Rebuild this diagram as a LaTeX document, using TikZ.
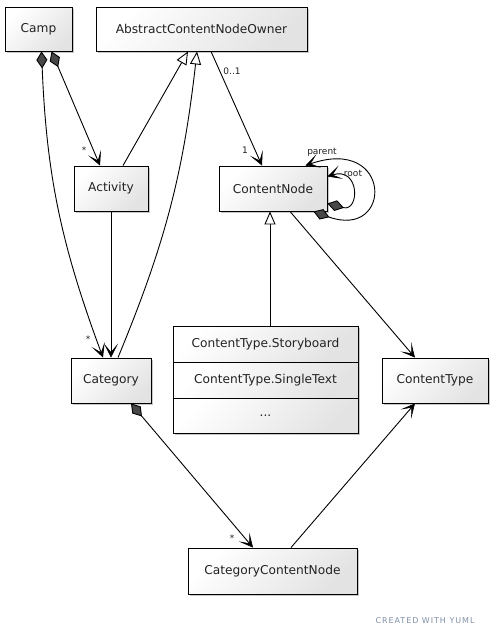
\documentclass[tikz,border=0pt]{standalone}
\usepackage{fontspec}
\setmainfont{DejaVu Sans}
\usetikzlibrary{arrows.meta,shadows}
\definecolor{txt}{HTML}{222222}
\definecolor{yumlgray}{HTML}{8090A8}
\tikzset{
  cls/.style={draw=black, line width=0.9pt, inner sep=0pt, text=txt,
    top color=white, bottom color=black!11, shading angle=45,
    drop shadow={shadow xshift=2pt, shadow yshift=-2pt, opacity=0.22, fill=black},
    font=\fontsize{12.2}{14}\selectfont},
  edge/.style={draw=black, line width=0.9pt},
  vee/.style={-{Stealth[length=14pt,width=14pt,inset=8.5pt,line width=0.6pt]}},
  inh/.style={-{Triangle[open,length=13pt,width=11pt,fill=white]}},
  comp/.style={{Diamond[length=17pt,width=11pt,fill=black!72]}-{Stealth[length=14pt,width=14pt,inset=8.5pt,line width=0.6pt]}},
  lab/.style={font=\fontsize{9}{10}\selectfont, text=txt, inner sep=0pt}
}
\begin{document}
\begin{tikzpicture}[x=1pt,y=-1pt]
\useasboundingbox[fill=white] (0,0) rectangle (493,638);
% classes
\node[cls, minimum width=67pt, minimum height=44pt] (camp) at (38.5,29) {Camp};
\node[cls, minimum width=211pt, minimum height=44pt] (acno) at (201.5,29) {AbstractContentNodeOwner};
\node[cls, minimum width=74pt, minimum height=45pt] (activity) at (111,188.5) {Activity};
\node[cls, minimum width=108pt, minimum height=45pt] (cn) at (273,188.5) {ContentNode};
\node[cls, minimum width=80pt, minimum height=45pt] (category) at (111,380.5) {Category};
\node[cls, minimum width=106pt, minimum height=45pt] (ct) at (435,380.5) {ContentType};
\node[cls, minimum width=169pt, minimum height=46pt] (ccn) at (272.5,571) {CategoryContentNode};
\node[cls, minimum width=185pt, minimum height=36pt] (sb1) at (265.5,344) {ContentType.Storyboard};
\node[cls, minimum width=185pt, minimum height=36pt] (sb2) at (265.5,380) {ContentType.SingleText};
\node[cls, minimum width=185pt, minimum height=35pt] (sb3) at (265.5,415.5) {...};
% connectors
\draw[edge, comp] ([xshift=13pt]camp.south) to ([xshift=-11pt]activity.north);
\draw[edge, comp] ([xshift=3pt]camp.south) to[bend right=9] ([xshift=-8pt]category.north);
\draw[edge, inh] ([xshift=12pt]activity.north) to ([xshift=-13.5pt]acno.south);
\draw[edge, inh] ([xshift=7pt]category.north) to[bend right=8] ([xshift=-4.5pt]acno.south);
\draw[edge, vee] (activity.south) to (category.north);
\draw[edge, vee] ([xshift=9.5pt]acno.south) to ([xshift=-11pt]cn.north);
\draw[edge, comp] ([xshift=-14pt]cn.south east) .. controls (393,240) and (393,135) .. ([xshift=-22pt]cn.north east);
\draw[edge, comp] ([yshift=-15pt]cn.east) .. controls (360,212) and (360,166) .. ([yshift=12pt]cn.east);
\draw[edge, vee] ([xshift=17pt]cn.south) to ([xshift=-20pt]ct.north);
\draw[edge, inh] ([xshift=4.5pt]sb1.north) to ([xshift=-3pt]cn.south);
\draw[edge, comp] ([xshift=20pt]category.south) to ([xshift=-19.5pt]ccn.north);
\draw[edge, vee] ([xshift=18.5pt]ccn.north) to ([xshift=-20pt]ct.south);
% labels
\node[lab] (l01) at (232,71) {0..1};
\node[lab] (l1) at (245,150) {1};
\node[lab] (s1) at (84,150) {*};
\node[lab] (s2) at (88,339) {*};
\node[lab] (s3) at (232,538) {*};
\node[lab] (lpar) at (322,152) {parent};
\node[lab] (lroot) at (353,173) {root};
\node[font=\fontsize{8}{9}\selectfont\addfontfeature{LetterSpace=12}, text=yumlgray, inner sep=0pt] (yuml) at (425,621) {CREATED WITH YUML};
\end{tikzpicture}
\end{document}
